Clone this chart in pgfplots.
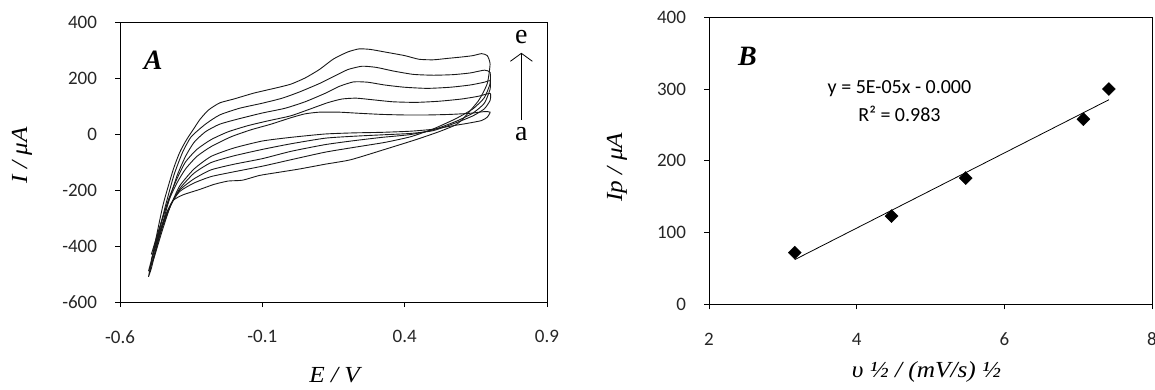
\documentclass[border=0pt]{standalone}
\usepackage{fontspec}
\setmainfont{Carlito}
\newfontfamily\lserif[FakeStretch=1.1]{Liberation Serif}
\newfontfamily\pserif{Liberation Serif}
\usepackage{pgfplots}
\pgfplotsset{compat=1.18}
\usetikzlibrary{arrows.meta}

\pgfplotsset{
  excel/.style={
    scale only axis,
    axis line style={black, line width=0.8pt},
    tick align=outside, major tick length=5pt,
    tick style={black, line width=0.8pt},
    xtick pos=bottom, ytick pos=left,
    ticklabel style={font=\fontsize{19}{19}\selectfont, text=black!85},
    xticklabel style={yshift=-20pt},
    yticklabel style={xshift=-14.5pt},
    label style={font=\lserif\itshape\fontsize{23}{23}\selectfont},
    clip=false,
  },
  cv/.style={black!90, line width=0.9pt, smooth, tension=0.35, mark=none},
}

\begin{document}
\begin{tikzpicture}[x=1pt,y=1pt]
\useasboundingbox (0,0) rectangle (1155,-389);
% ---------------- Panel A ----------------
\begin{axis}[excel,
  at={(120pt,-302pt)}, anchor=south west,
  width=427pt, height=280pt,
  xmin=-0.6, xmax=0.9, ymin=-600, ymax=400,
  xtick={-0.6,-0.1,0.4,0.9}, xticklabels={-0.6,-0.1,0.4,0.9},
  ytick={-600,-400,-200,0,200,400}, yticklabels={-600,-400,-200,0,200,400},
  xlabel={E / V}, ylabel={I / μA},
  xlabel style={at={(axis description cs:0.5026,-0.262)}, anchor=center},
  ylabel style={at={(axis description cs:-0.2295,0.525)}, anchor=center},
]
% curve a
\addplot[cv] coordinates {(-0.49,-430) (-0.46,-330) (-0.43,-240) (-0.40,-175) (-0.37,-125) (-0.33,-80) (-0.28,-45) (-0.21,-10) (-0.14,15) (-0.07,35) (0.0,58) (0.05,72) (0.10,78) (0.17,78) (0.24,74) (0.32,70) (0.40,68) (0.48,68) (0.56,70) (0.63,74) (0.68,80) (0.70,78) (0.69,60)
 (0.67,48) (0.62,38) (0.56,28) (0.50,17) (0.42,10) (0.32,6) (0.22,4) (0.12,0) (0.0,-12) (-0.10,-25) (-0.20,-50) (-0.28,-80) (-0.34,-125) (-0.39,-185) (-0.42,-250) (-0.45,-320) (-0.48,-400) (-0.49,-430)};
% curve b
\addplot[cv] coordinates {(-0.49,-450) (-0.46,-335) (-0.43,-235) (-0.40,-160) (-0.37,-100) (-0.33,-55) (-0.28,-20) (-0.22,8) (-0.15,30) (-0.08,47) (0.0,65) (0.07,90) (0.13,112) (0.18,125) (0.23,128) (0.29,122) (0.36,115) (0.44,113) (0.52,117) (0.60,125) (0.66,135) (0.70,145) (0.70,120)
 (0.68,90) (0.64,65) (0.58,40) (0.50,12) (0.42,2) (0.32,-3) (0.22,-8) (0.12,-15) (0.0,-35) (-0.10,-55) (-0.20,-78) (-0.28,-102) (-0.34,-140) (-0.39,-195) (-0.42,-250) (-0.45,-320) (-0.48,-420) (-0.49,-450)};
% curve c
\addplot[cv] coordinates {(-0.49,-470) (-0.46,-355) (-0.43,-245) (-0.40,-150) (-0.37,-80) (-0.34,-30) (-0.30,8) (-0.25,35) (-0.18,55) (-0.10,75) (-0.02,92) (0.05,115) (0.12,145) (0.17,170) (0.22,186) (0.27,185) (0.33,175) (0.40,167) (0.48,163) (0.56,167) (0.63,175) (0.68,185) (0.70,190) (0.70,160)
 (0.68,110) (0.64,75) (0.58,45) (0.50,15) (0.42,-2) (0.32,-12) (0.22,-24) (0.12,-38) (0.0,-62) (-0.10,-88) (-0.20,-108) (-0.28,-128) (-0.34,-160) (-0.39,-200) (-0.42,-250) (-0.45,-330) (-0.48,-430) (-0.49,-470)};
% curve d
\addplot[cv] coordinates {(-0.50,-490) (-0.47,-375) (-0.44,-255) (-0.41,-145) (-0.38,-65) (-0.35,-10) (-0.30,35) (-0.25,68) (-0.18,92) (-0.10,110) (-0.03,128) (0.03,150) (0.10,180) (0.15,205) (0.20,230) (0.25,242) (0.30,238) (0.36,225) (0.43,213) (0.50,210) (0.57,212) (0.63,218) (0.68,228) (0.70,220) (0.70,180)
 (0.68,130) (0.64,90) (0.58,55) (0.50,18) (0.42,-10) (0.33,-30) (0.22,-48) (0.12,-65) (0.0,-92) (-0.10,-115) (-0.20,-135) (-0.28,-152) (-0.34,-175) (-0.39,-205) (-0.42,-250) (-0.45,-340) (-0.48,-440) (-0.50,-490)};
% curve e
\addplot[cv] coordinates {(-0.50,-510) (-0.475,-380) (-0.448,-250) (-0.413,-127) (-0.39,-65) (-0.366,-20) (-0.34,20) (-0.32,51) (-0.29,85) (-0.25,111) (-0.20,125) (-0.13,146) (-0.05,165) (0.0,178) (0.05,200) (0.10,230) (0.15,268) (0.20,293) (0.24,304) (0.28,302) (0.33,293) (0.40,280) (0.45,267) (0.50,265) (0.55,270) (0.60,275) (0.64,280) (0.67,287) (0.69,280) (0.70,250)
 (0.69,180) (0.66,120) (0.61,60) (0.58,33) (0.52,8) (0.44,-20) (0.33,-55) (0.21,-92) (0.12,-108) (0.03,-125) (-0.05,-138) (-0.11,-148) (-0.17,-165) (-0.22,-168) (-0.27,-180) (-0.32,-198) (-0.378,-217) (-0.414,-238) (-0.44,-290) (-0.465,-380) (-0.49,-480) (-0.50,-510)};
\draw[black, line width=0.8pt, -{Straight Barb[length=8pt,width=22pt]}] (axis cs:0.81,51) -- (axis cs:0.81,290);
\node[font=\pserif\fontsize{28}{28}\selectfont] at (axis cs:0.81,345) {e};
\node[font=\pserif\fontsize{28}{28}\selectfont] at (axis cs:0.81,0) {a};
\node[font=\pserif\bfseries\itshape\fontsize{28}{28}\selectfont] at (axis cs:-0.483,265) {A};
\end{axis}
% ---------------- Panel B ----------------
\begin{axis}[excel,
  at={(709pt,-304.3pt)}, anchor=south west,
  width=443pt, height=287pt,
  xmin=2, xmax=8, ymin=0, ymax=400,
  xtick={2,4,6,8}, xticklabels={2,4,6,8},
  ytick={0,100,200,300,400}, yticklabels={0,100,200,300,400},
  xlabel={υ ½ / (mV/s) ½}, ylabel={Ip / μA},
  xlabel style={at={(axis description cs:0.491,-0.236)}, anchor=center},
  ylabel style={at={(axis description cs:-0.2077,0.478)}, anchor=center},
]
\addplot[black, line width=0.8pt, mark=none] coordinates {(3.162,62.3) (7.416,285.1)};
\addplot[only marks, mark=square*, mark size=4.6pt, mark options={rotate=45, fill=black, draw=black}] coordinates {(3.162,72) (4.472,123) (5.477,176) (7.071,258) (7.416,300)};
\node[font=\fontsize{20}{20}\selectfont] at (axis cs:4.58,301) {y = 5E-05x - 0.000};
\node[font=\fontsize{20}{20}\selectfont] at (axis cs:4.58,266) {R² = 0.983};
\node[font=\pserif\bfseries\itshape\fontsize{28}{28}\selectfont] at (axis cs:2.52,345) {B};
\end{axis}
\end{tikzpicture}
\end{document}
